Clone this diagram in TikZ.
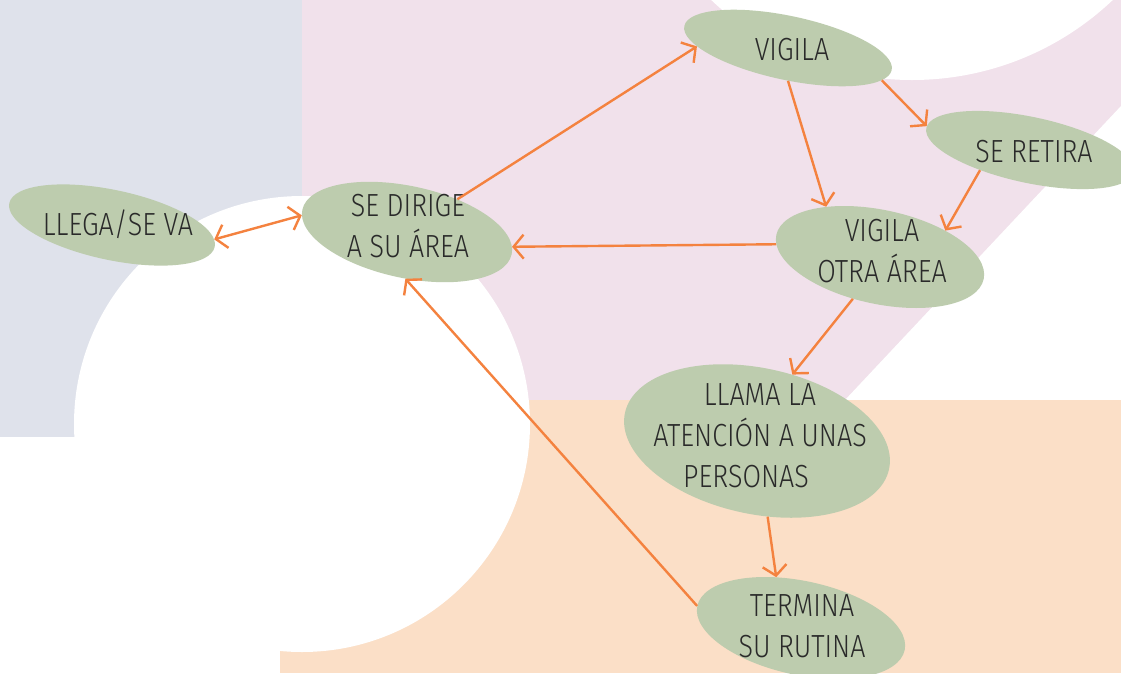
\documentclass[tikz,border=0pt]{standalone}
\usepackage{fontspec}
\setmainfont{Fira Sans}[UprightFont={* Light}, FakeStretch=0.84]
\usetikzlibrary{arrows.meta,shapes.geometric}

\definecolor{bgblue}{HTML}{DFE2EB}
\definecolor{bgpink}{HTML}{F1E1EB}
\definecolor{bgpeach}{HTML}{FBDFC7}
\definecolor{leaf}{HTML}{BDCCAE}
\definecolor{flame}{HTML}{F4823F}
\definecolor{ink}{HTML}{2A2A2A}

\tikzset{
  barb/.tip={Straight Barb[length=10pt,width=24pt]},
  bubble/.style={ellipse, fill=leaf, inner sep=0pt, rotate=-12},
  words/.style={text=ink, align=center, inner sep=0pt,
    font=\fontsize{32}{41}\selectfont},
  arrowline/.style={draw=flame, line width=2.4pt, -barb},
}

\begin{document}
\begin{tikzpicture}[x=1pt, y=-1pt]
    % Page area (pixel grid of the reference, y pointing down)
    \clip (0,0) rectangle (1121,673);

    % Background patches
    \fill[bgblue] (0,0) rectangle (302,437);
    \fill[bgpink] (302,0) rectangle (1121,402);
    \fill[white] (1121,106) -- (845,400) -- (1121,400) -- cycle;
    \fill[white] (912,-212) circle [radius=292pt];
    \fill[bgpeach] (280,400) rectangle (1121,673);
    \fill[white] (302,424) circle [radius=228pt];

    % Ellipses (tilted), texts kept level on top
    \node[bubble, minimum width=210pt, minimum height=70pt] (llega) at (112,225) {};
    \node[words] (llega-t) at (118,224) {LLEGA/SE VA};

    \node[bubble, minimum width=214pt, minimum height=92pt] (dirige) at (407,232) {};
    \node[words] (dirige-t) at (408,226) {SE DIRIGE\\A SU ÁREA};

    \node[bubble, minimum width=212pt, minimum height=64pt] (vigila) at (788,48) {};
    \node[words] (vigila-t) at (792,50) {VIGILA};

    \node[bubble, minimum width=212pt, minimum height=66pt] (retira) at (1030,150) {};
    \node[words] (retira-t) at (1034,152) {SE RETIRA};

    \node[bubble, minimum width=212pt, minimum height=94pt] (otra) at (880,257) {};
    \node[words] (otra-t) at (882,251) {VIGILA\\OTRA ÁREA};

    \node[bubble, minimum width=270pt, minimum height=146pt] (llama) at (757,441) {};
    \node[words] (llama-t) at (760,436) {LLAMA LA\\ATENCIÓN A UNAS\\PERSONAS\hspace*{28pt}};

    \node[bubble, minimum width=212pt, minimum height=94pt] (termina) at (801,628) {};
    \node[words] (termina-t) at (802,626) {TERMINA\\SU RUTINA};

    % Connectors
    \draw[arrowline, barb-barb] (llega.4) -- (dirige.183);
    \draw[arrowline] (dirige.45) -- (vigila.191);
    \draw[arrowline] (vigila.282) -- (otra.149);
    \draw[arrowline] (vigila.353) -- (retira.179);
    \draw[arrowline] (retira.214) -- (otra.34);
    \draw[arrowline] (otra.185) -- (dirige.4);
    \draw[arrowline] (otra.249) -- (llama.74);
    \draw[arrowline] (llama.290) -- (termina.128);
    \draw[arrowline] (termina.180) -- (dirige.280);
\end{tikzpicture}
\end{document}
